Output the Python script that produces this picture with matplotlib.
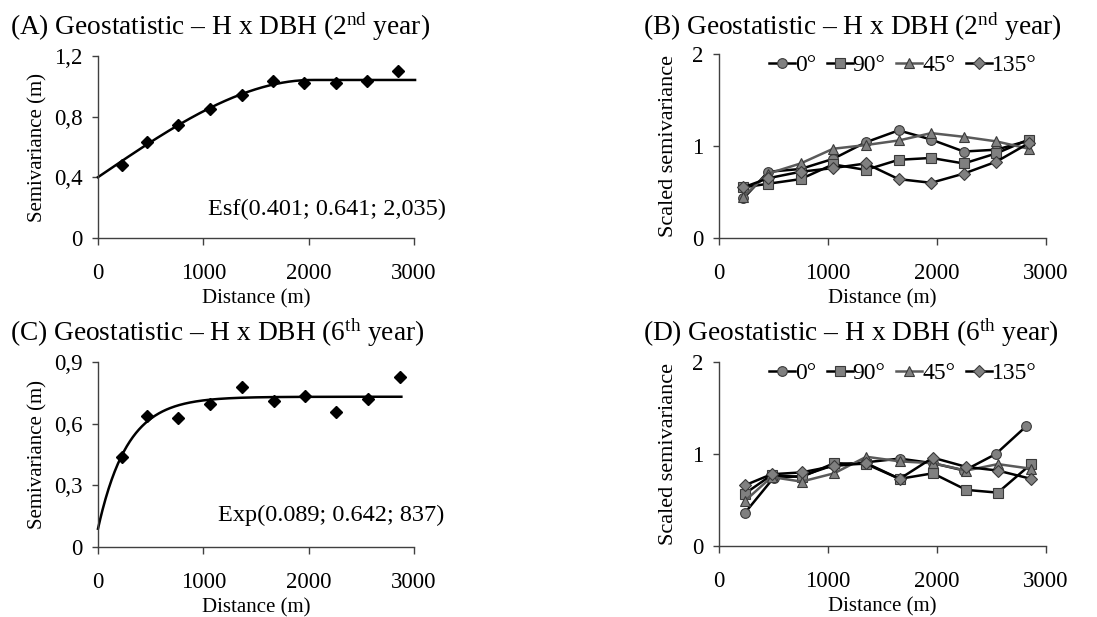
import numpy as np
import matplotlib
matplotlib.use("Agg")
import matplotlib.pyplot as plt
from matplotlib.ticker import FixedLocator, FixedFormatter

plt.rcParams['font.family'] = ['Liberation Serif', 'DejaVu Serif']
plt.rcParams['mathtext.fontset'] = 'custom'
plt.rcParams['mathtext.rm'] = 'Liberation Serif'
plt.rcParams['mathtext.it'] = 'Liberation Serif:italic'

# ---------------- data ----------------
# Panel A (2nd year) experimental semivariogram
lag_a = [231, 462, 762, 1062, 1363, 1663, 1957, 2257, 2554, 2849]
gamma_a = [0.483, 0.636, 0.742, 0.851, 0.943, 1.033, 1.020, 1.020, 1.033, 1.101]
model_a = (0.401, 0.641, 2035)   # spherical: nugget, contribution, range
curve_a_end = 3010

# Panel C (6th year)
lag_c = [231, 468, 762, 1062, 1363, 1669, 1963, 2264, 2564, 2864]
gamma_c = [0.439, 0.638, 0.627, 0.697, 0.778, 0.708, 0.736, 0.658, 0.719, 0.828]
model_c = (0.089, 0.642, 837)    # exponential: nugget, contribution, range
curve_c_end = 2880

# Panel B directional (2nd year)
lag_b = [223, 452, 748, 1047, 1346, 1648, 1947, 2246, 2545, 2841]
b_0 = [0.43, 0.72, 0.75, 0.86, 1.04, 1.17, 1.07, 0.94, 0.96, 1.06]
b_90 = [0.55, 0.59, 0.64, 0.80, 0.74, 0.85, 0.87, 0.81, 0.92, 1.07]
b_45 = [0.45, 0.70, 0.81, 0.97, 1.01, 1.06, 1.14, 1.10, 1.05, 0.97]
b_135 = [0.55, 0.65, 0.72, 0.76, 0.81, 0.64, 0.60, 0.70, 0.83, 1.03]

# Panel D directional (6th year)
lag_d = [238, 482, 757, 1056, 1352, 1657, 1962, 2268, 2558, 2863]
lag_d0 = [238, 500, 757, 1056, 1352, 1657, 1962, 2250, 2540, 2817]
d_0 = [0.36, 0.74, 0.76, 0.88, 0.91, 0.95, 0.90, 0.82, 1.00, 1.30]
d_90 = [0.57, 0.77, 0.75, 0.90, 0.89, 0.73, 0.79, 0.61, 0.58, 0.89]
d_45 = [0.49, 0.75, 0.70, 0.79, 0.97, 0.92, 0.90, 0.82, 0.89, 0.84]
d_135 = [0.66, 0.78, 0.80, 0.87, 0.90, 0.73, 0.96, 0.86, 0.82, 0.73]

directions = ["0°", "90°", "45°", "135°"]
titles = [r"(A) Geostatistic – H x DBH (2$^{\mathrm{nd}}$ year)",
          r"(B) Geostatistic – H x DBH (2$^{\mathrm{nd}}$ year)",
          r"(C) Geostatistic – H x DBH (6$^{\mathrm{th}}$ year)",
          r"(D) Geostatistic – H x DBH (6$^{\mathrm{th}}$ year)"]
x_ticks = [0, 1000, 2000, 3000]
ya_ticks = [0, 0.4, 0.8, 1.2]
ya_labels = ["0", "0,4", "0,8", "1,2"]
yc_ticks = [0, 0.3, 0.6, 0.9]
yc_labels = ["0", "0,3", "0,6", "0,9"]
yb_ticks = [0, 1, 2]
yb_labels = ["0", "1", "2"]
label_a = "Esf(0.401; 0.641; 2,035)"
label_c = "Exp(0.089; 0.642; 837)"


def spherical(h, c0, c, a):
    r = np.minimum(h / a, 1.0)
    return c0 + c * (1.5 * r - 0.5 * r ** 3)


def exponential(h, c0, c, a):
    return c0 + c * (1 - np.exp(-3 * h / a))


W, H = 1097, 617
fig = plt.figure(figsize=(W / 100, H / 100), dpi=100)

TICK_FS = 16.5
XLAB_FS = 15
TITLE_FS = 19.7
ANN_FS = 17.5
LEG_FS = 17


def rect(l, r, t, b):
    return [l / W, 1 - b / H, (r - l) / W, (b - t) / H]


ax_a = fig.add_axes(rect(98, 414, 56, 238))
ax_b = fig.add_axes(rect(719, 1046, 54, 238))
ax_c = fig.add_axes(rect(98, 414, 362, 547))
ax_d = fig.add_axes(rect(719, 1046, 362, 546))


def style(ax, yt, yl, ylabel, ylab_fs, ylab_pad):
    for s in ["top", "right"]:
        ax.spines[s].set_visible(False)
    for s in ["left", "bottom"]:
        ax.spines[s].set_color("#404040")
        ax.spines[s].set_linewidth(1.0)
    ax.set_xlim(0, 3000)
    ax.set_ylim(yt[0], yt[-1])
    ax.xaxis.set_major_locator(FixedLocator(x_ticks))
    ax.yaxis.set_major_locator(FixedLocator(yt))
    ax.yaxis.set_major_formatter(FixedFormatter(yl))
    ax.tick_params(axis="x", direction="out", length=5, width=1, color="#404040",
                   pad=13, labelsize=TICK_FS)
    ax.tick_params(axis="y", direction="out", length=4, width=1, color="#404040",
                   pad=7, labelsize=TICK_FS)
    ax.set_xlabel("Distance (m)", fontsize=XLAB_FS, labelpad=4)
    ax.set_ylabel(ylabel, fontsize=ylab_fs, labelpad=ylab_pad)
    ax.patch.set_visible(False)


# Panel A
style(ax_a, ya_ticks, ya_labels, "Semivariance (m)", 15, 5)
h = np.linspace(0, curve_a_end, 400)
ax_a.plot(h, spherical(h, *model_a), color="black", lw=1.8, clip_on=False)
ax_a.plot(lag_a, gamma_a, linestyle="none", marker="D", ms=6, color="black", clip_on=False)
ax_a.text(1.10, 0.155, label_a, transform=ax_a.transAxes, ha="right", va="center",
          fontsize=ANN_FS)

# Panel C
style(ax_c, yc_ticks, yc_labels, "Semivariance (m)", 15, 5)
h = np.linspace(0, curve_c_end, 400)
ax_c.plot(h, exponential(h, *model_c), color="black", lw=1.8, clip_on=False)
ax_c.plot(lag_c, gamma_c, linestyle="none", marker="D", ms=6, color="black", clip_on=False)
ax_c.text(1.095, 0.17, label_c, transform=ax_c.transAxes, ha="right", va="center",
          fontsize=ANN_FS)

# Directional panels
markers = ["o", "s", "^", "D"]
line_colors = ["black", "black", "#5a5a5a", "black"]
face = "#808080"
edge = "#3a3a3a"
msizes = [7, 7, 7, 6]


def directional(ax, lags, series):
    style(ax, yb_ticks, yb_labels, "Scaled semivariance", 16, 10)
    handles = []
    for i, (lg, s) in enumerate(zip(lags, series)):
        hnd, = ax.plot(lg, s, marker=markers[i], ms=msizes[i], color=line_colors[i],
                       lw=1.8, mfc=face, mec=edge, mew=0.8, label=directions[i],
                       clip_on=False)
        handles.append(hnd)
    leg = ax.legend(handles=handles, loc="upper right", bbox_to_anchor=(1.0, 1.05),
                    ncol=4, frameon=False, fontsize=LEG_FS, handlelength=1.1,
                    handletextpad=0.0, columnspacing=0.45, borderaxespad=0.0)
    return leg


directional(ax_b, [lag_b] * 4, [b_0, b_90, b_45, b_135])
directional(ax_d, [lag_d0, lag_d, lag_d, lag_d], [d_0, d_90, d_45, d_135])

# Titles
fig.text(10 / W, 1 - 27 / H, titles[0], fontsize=TITLE_FS, ha="left", va="center")
fig.text(643 / W, 1 - 27 / H, titles[1], fontsize=TITLE_FS, ha="left", va="center")
fig.text(10 / W, 1 - 333 / H, titles[2], fontsize=TITLE_FS, ha="left", va="center")
fig.text(643 / W, 1 - 333 / H, titles[3], fontsize=TITLE_FS, ha="left", va="center")

fig.savefig("out.png", dpi=100, facecolor="white")
